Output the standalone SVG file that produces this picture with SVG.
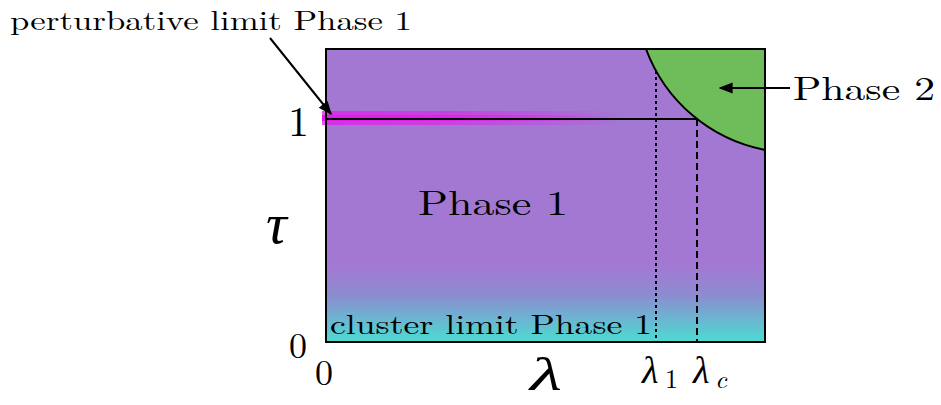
<svg xmlns="http://www.w3.org/2000/svg" width="941" height="405" viewBox="0 0 941 405">
<style>
text{font-family:"Latin Modern Roman","Liberation Serif","DejaVu Serif",serif;fill:#000}
.ln{stroke:#000;fill:none;stroke-width:2}
</style>
<defs>
<linearGradient id="bg" x1="0" y1="0" x2="0" y2="1" gradientUnits="objectBoundingBox">
<stop offset="0" stop-color="#A278D2"/>
<stop offset="0.74" stop-color="#A278D2"/>
<stop offset="0.84" stop-color="#8C8CD0"/>
<stop offset="1" stop-color="#4CDCD2"/>
</linearGradient>
<linearGradient id="mg" x1="0" y1="0" x2="1" y2="0">
<stop offset="0" stop-color="#E31CEA" stop-opacity="1"/>
<stop offset="0.4" stop-color="#E31CEA" stop-opacity="0.8"/>
<stop offset="1" stop-color="#E31CEA" stop-opacity="0"/>
</linearGradient>
<marker id="ah2" viewBox="0 0 10 10" refX="9" refY="5" markerWidth="14" markerHeight="14" orient="auto" markerUnits="userSpaceOnUse">
<path d="M0,1 L10,5 L0,9 Z" fill="#000"/>
</marker>
</defs>
<g id="phase1">
<rect x="326" y="49" width="439" height="293" fill="url(#bg)"/>
</g>
<g id="phase2">
<path d="M646,49 A159,159 0 0 0 765,150 L765,49 Z" fill="#6FBC5A"/>
<path d="M646,49 A159,159 0 0 0 765,150" class="ln"/>
</g>
<g id="perturbative-band">
<rect x="322" y="111" width="300" height="14" fill="url(#mg)" opacity="0.75"/>
<rect x="322" y="115" width="300" height="6" fill="url(#mg)"/>
</g>
<g id="frame">
<rect x="326" y="49" width="439" height="293" class="ln"/>
</g>
<g id="connectors">
<line x1="326" y1="119" x2="697" y2="119" class="ln"/>
<line x1="656" y1="71" x2="656" y2="342" class="ln" stroke-dasharray="3,3" stroke-width="2.5"/>
<line x1="697" y1="119" x2="697" y2="342" class="ln" stroke-dasharray="7,4"/>
<line x1="270" y1="38" x2="331" y2="114" class="ln" marker-end="url(#ah2)"/>
<line x1="790" y1="88" x2="720" y2="88" class="ln" marker-end="url(#ah2)"/>
</g>
<g id="labels">
<text x="10" y="30" font-size="27" textLength="402" lengthAdjust="spacingAndGlyphs">perturbative limit Phase 1</text>
<text x="793" y="100" font-size="33" textLength="142" lengthAdjust="spacingAndGlyphs">Phase 2</text>
<text x="418" y="215" font-size="35" textLength="150" lengthAdjust="spacingAndGlyphs">Phase 1</text>
<text x="330" y="334" font-size="28" textLength="322" lengthAdjust="spacingAndGlyphs">cluster limit Phase 1</text>
<text x="288" y="136" font-size="42">1</text>
<text x="266" y="243" font-size="58" font-style="italic">τ</text>
<text x="289" y="358" font-size="36">0</text>
<text x="315" y="385" font-size="36">0</text>
<text x="530" y="390" font-size="46" font-style="italic" textLength="32" lengthAdjust="spacingAndGlyphs">λ</text>
<text x="642" y="383" font-size="38" font-style="italic">λ</text>
<text x="665" y="388" font-size="26">1</text>
<text x="693" y="383" font-size="38" font-style="italic">λ</text>
<text x="715" y="388" font-size="26" font-style="italic">c</text>
</g>
</svg>
